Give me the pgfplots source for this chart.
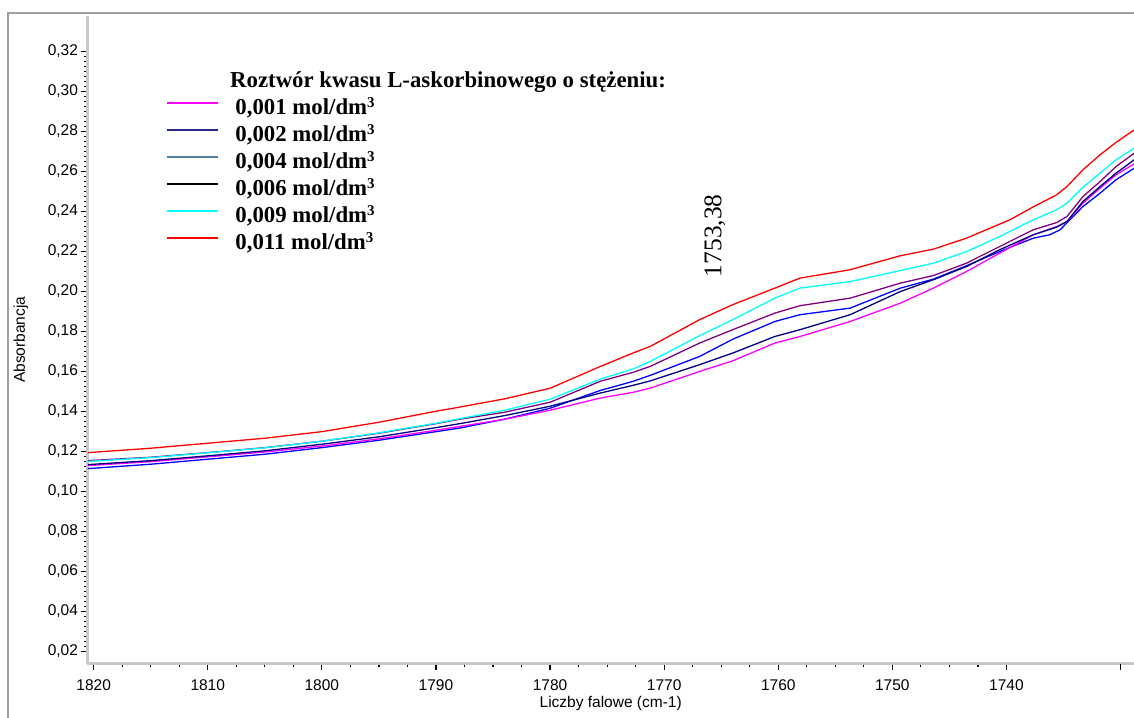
\documentclass[border=0pt]{standalone}
\usepackage{pgfplots}
\pgfplotsset{compat=1.18}
\usepackage{fontspec}
\setmainfont{Liberation Sans}
\newfontfamily\tnr{Liberation Serif}
\definecolor{cmag}{RGB}{255,0,255}
\definecolor{cnavy}{RGB}{0,0,128}
\definecolor{cblue}{RGB}{0,0,255}
\definecolor{cpurple}{RGB}{128,0,128}
\definecolor{ccyan}{RGB}{0,255,255}
\definecolor{cred}{RGB}{255,0,0}
\definecolor{lnavy}{RGB}{40,40,140}
\definecolor{lsteel}{RGB}{80,128,165}
\definecolor{axgray}{RGB}{200,200,200}
\begin{document}
\begin{tikzpicture}
\useasboundingbox (-87.5pt,-53.5pt) rectangle (1046.5pt,663.5pt);
\draw[color=gray!75, line width=2.5pt] (-79.5pt,-60pt) -- (-79.5pt,650.5pt) -- (1050pt,650.5pt);
\begin{axis}[
  at={(0pt,0pt)}, anchor=south west,
  scale only axis, width=1046.5pt, height=647.5pt,
  x dir=reverse,
  xmin=1728.83, xmax=1820.54,
  ymin=0.0138, ymax=0.33775,
  axis x line*=bottom, axis y line*=left,
  axis line style={draw=axgray, line width=3pt, -},
  xtick align=outside, ytick align=outside,
  major tick length=6pt, minor tick length=3pt,
  every tick/.style={black, line width=1.2pt},
  xtick={1740,1750,...,1820},
  extra x ticks={1730}, extra x tick labels={},
  minor x tick num=3,
  ytick={0.02,0.04,...,0.321},
  minor y tick num=7,
  tick label style={font=\fontsize{15.5}{18}\selectfont},
  yticklabel style={/pgf/number format/.cd, fixed, fixed zerofill, precision=2, use comma, assume math mode=true},
  xticklabel style={yshift=-7pt, /pgf/number format/.cd, 1000 sep={}, assume math mode=true},
  xlabel={Liczby falowe (cm-1)},
  ylabel={Absorbancja},
  every axis x label/.style={at={(axis description cs:0.5,-0.062)}, anchor=center, font=\fontsize{15.5}{18}\selectfont},
  every axis y label/.style={at={(axis description cs:-0.0636,0.5)}, anchor=center, rotate=90, font=\fontsize{15.5}{18}\selectfont},
  legend style={at={(rel axis cs:0.0721,0.8773)}, anchor=north west, draw=none, fill=none,
    font=\tnr\bfseries\fontsize{22.8}{26}\selectfont,
    nodes={inner sep=0pt, text height=17pt, text depth=6pt},
    row sep=4pt, column sep=17pt},
  legend cell align=left,
  legend image code/.code={\draw[#1, line width=1.3pt] (0pt,6pt) -- (51pt,6pt);},
  clip=true,
]
\addlegendimage{cmag}\addlegendentry{0,001 mol/dm\raisebox{7pt}{\fontsize{15}{15}\selectfont 3}}
\addlegendimage{lnavy}\addlegendentry{0,002 mol/dm\raisebox{7pt}{\fontsize{15}{15}\selectfont 3}}
\addlegendimage{lsteel}\addlegendentry{0,004 mol/dm\raisebox{7pt}{\fontsize{15}{15}\selectfont 3}}
\addlegendimage{black}\addlegendentry{0,006 mol/dm\raisebox{7pt}{\fontsize{15}{15}\selectfont 3}}
\addlegendimage{ccyan}\addlegendentry{0,009 mol/dm\raisebox{7pt}{\fontsize{15}{15}\selectfont 3}}
\addlegendimage{cred}\addlegendentry{0,011 mol/dm\raisebox{7pt}{\fontsize{15}{15}\selectfont 3}}
% blue
\addplot[cblue, line width=1.3pt, forget plot] coordinates {
(1820.5,0.1113) (1815,0.1135) (1810,0.1160) (1805,0.1185) (1800,0.1218) (1795,0.1255) (1790,0.1298) (1787.9,0.1316)
(1784,0.1360) (1780,0.1415) (1775.6,0.1504) (1772.7,0.1550) (1771.2,0.1580) (1766.9,0.1674) (1764,0.1760) (1760.3,0.1849)
(1758.1,0.1883) (1753.7,0.1916) (1749.3,0.2016) (1746.4,0.2061) (1743.5,0.2128) (1740.6,0.2199) (1737.65,0.2266)
(1736.2,0.2283) (1735.3,0.2308) (1734.15,0.2374) (1733.3,0.2424) (1731.8,0.2491) (1730.4,0.2558) (1728.8,0.2616)};
% magenta
\addplot[cmag, line width=1.3pt, forget plot] coordinates {
(1820.5,0.1128) (1815,0.1148) (1810,0.1172) (1805,0.1196) (1800,0.1226) (1795,0.1262) (1790,0.1305) (1787.9,0.1324)
(1784,0.1360) (1780,0.1405) (1775.6,0.1466) (1772.7,0.1495) (1771.2,0.1516) (1766.9,0.1599) (1764,0.1652) (1760.3,0.1741)
(1758.1,0.1774) (1753.7,0.1849) (1749.3,0.1941) (1746.4,0.2016) (1743.5,0.2099) (1740.6,0.2191) (1737.65,0.2283)
(1735.6,0.2324) (1734.7,0.2349) (1733.3,0.2441) (1731.8,0.2516) (1730.4,0.2583) (1728.8,0.2638)};
% navy
\addplot[cnavy, line width=1.3pt, forget plot] coordinates {
(1820.5,0.1133) (1815,0.1153) (1810,0.1177) (1805,0.1202) (1800,0.1235) (1795,0.1272) (1790,0.1318) (1787.9,0.1338)
(1784,0.1378) (1780,0.1425) (1775.6,0.1491) (1772.7,0.1530) (1771.2,0.1552) (1766.9,0.1633) (1764,0.1691) (1760.3,0.1774)
(1758.1,0.1808) (1753.7,0.1883) (1749.3,0.1999) (1746.4,0.2058) (1743.5,0.2124) (1740.6,0.2208) (1737.65,0.2283)
(1735.6,0.2321) (1734.7,0.2349) (1733.3,0.2449) (1731.8,0.2524) (1730.4,0.2591) (1728.8,0.2658)};
% purple
\addplot[cpurple, line width=1.3pt, forget plot] coordinates {
(1820.5,0.1153) (1815,0.1170) (1810,0.1193) (1805,0.1218) (1800,0.1250) (1795,0.1290) (1790,0.1338) (1787.9,0.1360)
(1784,0.1395) (1780,0.1445) (1775.6,0.1550) (1772.7,0.1595) (1771.2,0.1625) (1766.9,0.1741) (1764,0.1808) (1760.3,0.1891)
(1758.1,0.1928) (1753.7,0.1966) (1749.3,0.2041) (1746.4,0.2079) (1743.5,0.2141) (1740.6,0.2224) (1737.65,0.2308)
(1735.6,0.2344) (1734.7,0.2374) (1733.3,0.2474) (1731.8,0.2549) (1730.4,0.2624) (1728.8,0.2691)};
% cyan
\addplot[ccyan, line width=1.3pt, forget plot] coordinates {
(1820.5,0.1149) (1815,0.1168) (1810,0.1192) (1805,0.1217) (1800,0.1250) (1795,0.1292) (1790,0.1340) (1787.9,0.1363)
(1784,0.1405) (1780,0.1460) (1775.6,0.1561) (1772.7,0.1612) (1771.2,0.1650) (1766.9,0.1778) (1764,0.1858) (1760.3,0.1966)
(1758.1,0.2016) (1753.7,0.2049) (1749.3,0.2104) (1746.4,0.2141) (1743.5,0.2199) (1740.6,0.2274) (1737.65,0.2358)
(1735.6,0.2408) (1734.7,0.2441) (1733.3,0.2521) (1731.8,0.2591) (1730.4,0.2658) (1728.8,0.2716)};
% red
\addplot[cred, line width=1.3pt, forget plot] coordinates {
(1820.5,0.1193) (1815,0.1215) (1810,0.1240) (1805,0.1265) (1800,0.1298) (1795,0.1345) (1790,0.1400) (1787.9,0.1421)
(1784,0.1462) (1780,0.1515) (1775.6,0.1624) (1772.7,0.1692) (1771.2,0.1725) (1766.9,0.1858) (1764,0.1933) (1760.3,0.2016)
(1758.1,0.2066) (1753.7,0.2108) (1749.3,0.2178) (1746.4,0.2211) (1743.5,0.2266) (1739.7,0.2358) (1737.6,0.2424)
(1735.6,0.2483) (1734.7,0.2524) (1733.3,0.2608) (1731.8,0.2683) (1730.3,0.2749) (1728.8,0.2808)};
\node[anchor=west, inner sep=0pt, font=\tnr\bfseries\fontsize{22.8}{26}\selectfont] at (rel axis cs:0.1362,0.8981) {Roztwór kwasu L-askorbinowego o stężeniu:};
\node[rotate=90, inner sep=0pt, font=\tnr\fontsize{25.5}{28}\selectfont] at (axis cs:1765.55,0.2278) {1753,38};
\end{axis}
\end{tikzpicture}
\end{document}
